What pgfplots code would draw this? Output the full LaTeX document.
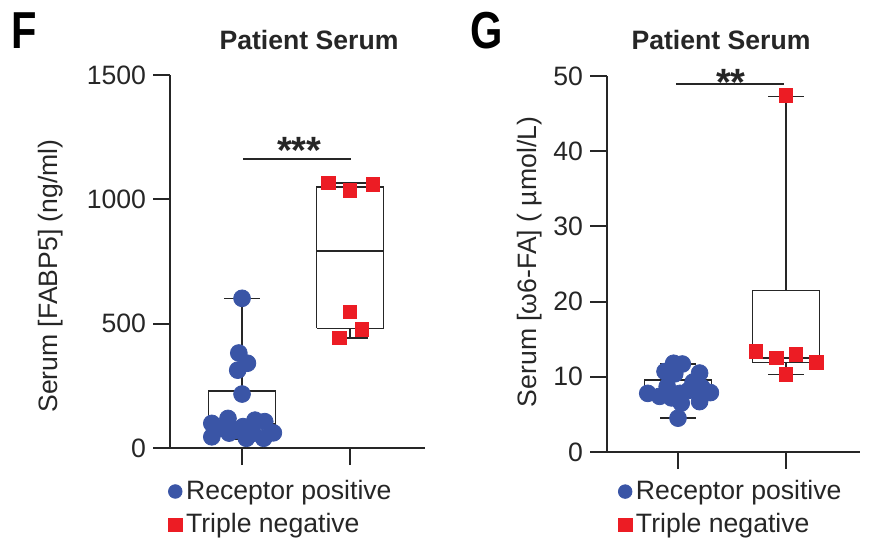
\documentclass[border=0pt]{standalone}
\usepackage{fontspec}
\setmainfont{Liberation Sans}
\usepackage{graphicx}
\usepackage{pgfplots}
\pgfplotsset{compat=1.18}
\definecolor{rpblue}{HTML}{3A55A6}
\definecolor{tnred}{HTML}{EC1C24}
\definecolor{axgray}{HTML}{262626}

\pgfplotstableread{
x y
0 602
-0.03 382
0.05 341
-0.04 313
0 217
-0.28 99
-0.28 45
-0.13 119
-0.2 79
-0.05 72
0.01 86
0.12 112
0.21 106
0.04 39
0.20 39
0.29 61
0.10 59
-0.12 60
}\leftrp
\pgfplotstableread{
x y
0.8 1066
1.0 1036
1.21 1060
1.0 547
1.11 477
0.9 443
}\lefttn
\pgfplotstableread{
x y
-0.04 11.8
0.04 11.7
-0.12 10.7
-0.03 10.4
0.2 10.5
0.14 9.3
-0.28 7.8
-0.17 7.4
-0.1 8.7
0.02 7.8
0.03 6.5
0.2 6.7
0.3 7.9
0.1 8.2
-0.06 7.2
0 4.5
0.22 8.6
}\rightrp
\pgfplotstableread{
x y
0.72 13.4
0.91 12.5
1.09 13.0
1.28 11.9
1.0 10.3
1.0 47.4
}\righttn

\pgfplotsset{
 panel/.style={
  scale only axis, axis lines=left,
  axis line style={-, line width=1pt, color=axgray},
  tick align=outside, major tick length=8.5pt,
  tick style={line width=1pt, color=axgray},
  xtick={0,1}, xticklabels={}, anchor=south west,
  ticklabel style={font=\fontsize{13.3}{16}\selectfont, color=axgray},
  /pgf/number format/assume math mode=true,
  /pgf/number format/1000 sep={},
  clip=false, unbounded coords=jump,
  legend cell align=left,
  legend style={draw=none, fill=none, inner sep=0pt, outer sep=0pt,
    row sep=1.5pt, font=\fontsize{13.3}{16}\selectfont, text=axgray,
    /tikz/every even column/.append style={column sep=1pt}},
  legend image code/.code={\draw[##1, mark size=3.4pt] plot coordinates {(0pt,0pt)};},
 },
 bx/.style={draw=axgray, line width=0.75pt, solid, no marks, forget plot},
}

\begin{document}
\begin{tikzpicture}
\useasboundingbox (0pt,0pt) rectangle (435pt,276pt);
% ---------- Panel F ----------
\begin{axis}[panel, at={(85pt,52pt)}, width=127.5pt, height=186.5pt,
  xmin=-0.667, xmax=1.694, ymin=0, ymax=1500, ytick={0,500,1000,1500},
  legend style={at={(axis description cs:-0.006,-0.076)}, anchor=north west}]
% box: receptor positive (whiskers 36..602, quartiles 92..229, median 98)
\addplot[bx] coordinates {(-0.31,92) (0.31,92) (0.31,229) (-0.31,229) (-0.31,92)
  (nan,nan) (-0.31,98) (0.31,98)
  (nan,nan) (0,229) (0,602) (nan,nan) (-0.165,602) (0.165,602)
  (nan,nan) (0,92) (0,36) (nan,nan) (-0.165,36) (0.165,36)};
% box: triple negative (whiskers 443..1065, quartiles 481..1049, median 792)
\addplot[bx] coordinates {(0.69,481) (1.31,481) (1.31,1049) (0.69,1049) (0.69,481)
  (nan,nan) (0.69,792) (1.31,792)
  (nan,nan) (1,1049) (1,1065) (nan,nan) (0.835,1065) (1.165,1065)
  (nan,nan) (1,481) (1,443) (nan,nan) (0.835,443) (1.165,443)};
\addplot[only marks, mark=*, mark size=4.2pt, color=rpblue] table[x=x,y=y] {\leftrp};
\addlegendentry{Receptor positive}
\addplot[only marks, mark=square*, mark size=3.4pt, color=tnred] table[x=x,y=y] {\lefttn};
\addlegendentry{Triple negative}
\draw[line width=1pt, axgray] (axis cs:0.01,1162) -- (axis cs:1.01,1162);
\node[font=\bfseries\fontsize{19}{19}\selectfont, text=axgray] at (axis cs:0.53,1195) {***};
\end{axis}
% ---------- Panel G ----------
\begin{axis}[panel, at={(303.5pt,50pt)}, width=126.5pt, height=188pt,
  xmin=-0.657, xmax=1.685, ymin=0, ymax=50, ytick={0,10,20,30,40,50},
  legend style={at={(axis description cs:0.045,-0.065)}, anchor=north west}]
\addplot[bx] coordinates {(-0.31,7.3) (0.31,7.3) (0.31,9.57) (-0.31,9.57) (-0.31,7.3)
  (nan,nan) (-0.31,8.2) (0.31,8.2)
  (nan,nan) (0,9.57) (0,11.7) (nan,nan) (-0.165,11.7) (0.165,11.7)
  (nan,nan) (0,7.3) (0,4.5) (nan,nan) (-0.165,4.5) (0.165,4.5)};
\addplot[bx] coordinates {(0.69,11.9) (1.31,11.9) (1.31,21.5) (0.69,21.5) (0.69,11.9)
  (nan,nan) (0.69,12.5) (1.31,12.5)
  (nan,nan) (1,21.5) (1,47.3) (nan,nan) (0.835,47.3) (1.165,47.3)
  (nan,nan) (1,11.9) (1,10.3) (nan,nan) (0.835,10.3) (1.165,10.3)};
\addplot[only marks, mark=*, mark size=4.2pt, color=rpblue] table[x=x,y=y] {\rightrp};
\addlegendentry{Receptor positive}
\addplot[only marks, mark=square*, mark size=3.4pt, color=tnred] table[x=x,y=y] {\righttn};
\addlegendentry{Triple negative}
\draw[line width=1pt, axgray] (axis cs:-0.02,48.9) -- (axis cs:0.98,48.9);
\node[font=\bfseries\fontsize{19}{19}\selectfont, text=axgray] at (axis cs:0.49,49.2) {**};
\end{axis}
% ---------- Titles and labels ----------
\node[font=\bfseries\fontsize{26}{26}\selectfont] at (12pt,260.5pt) {\scalebox{0.8}[1]{F}};
\node[font=\bfseries\fontsize{26}{26}\selectfont] at (243.5pt,260.5pt) {\scalebox{0.8}[1]{G}};
\node[font=\bfseries\fontsize{13.3}{16}\selectfont, text=axgray] at (154.5pt,256pt) {Patient Serum};
\node[font=\bfseries\fontsize{13.3}{16}\selectfont, text=axgray] at (360.5pt,256pt) {Patient Serum};
\node[rotate=90, font=\fontsize{13.3}{16}\selectfont, text=axgray] at (25.5pt,138pt) {Serum [FABP5] (ng/ml)};
\node[rotate=90, font=\fontsize{13.3}{16}\selectfont, text=axgray] at (265pt,145pt) {Serum [ω6-FA] ( µmol/L)};
\end{tikzpicture}
\end{document}
